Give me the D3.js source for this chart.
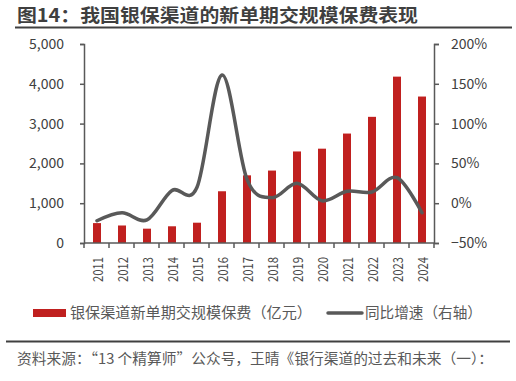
<!DOCTYPE html>
<html><head><meta charset="utf-8">
<script src="https://cdn.jsdelivr.net/npm/d3@7"></script>
<style>
html,body{margin:0;padding:0;background:#fff;}
svg text{font-family:"Noto Sans CJK SC","Noto Sans",sans-serif;}
</style></head>
<body><svg id="c" width="516" height="381"></svg>
<script>
const years = ["2011","2012","2013","2014","2015","2016","2017","2018","2019","2020","2021","2022","2023","2024"];
const premium = [500,440,360,420,510,1300,1700,1820,2300,2370,2750,3170,4180,3680];
const growth = [-0.22,-0.12,-0.21,0.16,0.20,1.61,0.30,0.07,0.25,0.03,0.15,0.14,0.32,-0.12];
const leftTicks = [0,1000,2000,3000,4000,5000];
const rightTicks = [-0.5,0,0.5,1.0,1.5,2.0];
const titleText = "图14：我国银保渠道的新单期交规模保费表现";
const legendBar = "银保渠道新单期交规模保费（亿元）";
const legendLine = "同比增速（右轴）";
const sourceText = "资料来源：“13 个精算师”公众号，王晴《银行渠道的过去和未来（一）：";

const svg = d3.select("#c");
const axisColor = "#595959", textColor = "#404040";
const L = 84, R = 434, T = 44, B = 243;

const x = d3.scaleBand().domain(years).range([L, R]).padding(0);
const y = d3.scaleLinear().domain([0,5000]).range([B, T]);
const y2 = d3.scaleLinear().domain([-0.5,2.0]).range([B, T]);

// title
svg.append("text").attr("x",17).attr("y",22).attr("font-size",18).attr("font-weight","bold")
  .attr("fill","#3f3f3f").attr("textLength",401).attr("lengthAdjust","spacingAndGlyphs").text(titleText);
svg.append("line").attr("x1",15).attr("x2",512).attr("y1",27.5).attr("y2",27.5)
  .attr("stroke","#404040").attr("stroke-width",2);

// bars
const bw = 8;
svg.append("g").selectAll("rect").data(years).join("rect")
  .attr("x", d => x(d) + x.bandwidth()/2 - bw/2 + 0.5)
  .attr("width", bw)
  .attr("y", (d,i) => y(premium[i]))
  .attr("height", (d,i) => B - y(premium[i]))
  .attr("fill","#c0201f");

// axes
const gL = svg.append("g").attr("transform",`translate(${L},0)`)
  .call(d3.axisLeft(y).tickValues(leftTicks).tickSize(4).tickPadding(16).tickFormat(d3.format(",")));
const gR = svg.append("g").attr("transform",`translate(${R},0)`)
  .call(d3.axisRight(y2).tickValues(rightTicks).tickSize(5).tickPadding(12).tickFormat(d3.format(".0%")));
const gB = svg.append("g").attr("transform",`translate(0,${B})`)
  .call(d3.axisBottom(x).tickSize(0).tickFormat(""));
[gL,gR,gB].forEach(g => {
  g.select(".domain").attr("stroke",axisColor).attr("stroke-width",1.5);
  g.selectAll(".tick line").attr("stroke",axisColor).attr("stroke-width",1.5);
  g.selectAll(".tick text").attr("fill",textColor).attr("font-size",14)
    .style("font-family",'"Noto Sans CJK SC","Noto Sans",sans-serif');
});
gB.select(".domain").attr("d",`M${L},0H${R}`);
// band boundary ticks on x axis
const bounds = years.map(d => x(d)).concat([R]);
svg.append("g").selectAll("line").data(bounds).join("line")
  .attr("x1",d=>d).attr("x2",d=>d).attr("y1",B).attr("y2",B+5)
  .attr("stroke",axisColor).attr("stroke-width",1.5);
// x labels rotated
svg.append("g").selectAll("text").data(years).join("text")
  .attr("transform", d => `translate(${x(d)+x.bandwidth()/2+1},257) rotate(-90)`)
  .attr("text-anchor","end").attr("dy","0.36em").attr("font-size",14)
  .attr("textLength",25).attr("lengthAdjust","spacingAndGlyphs")
  .attr("fill","#4a4a4a").text(d=>d);

// line
const line = d3.line().x((d,i)=>x(years[i])+x.bandwidth()/2+0.5).y(d=>y2(d)).curve(d3.curveCardinal.tension(0));
svg.append("path").datum(growth).attr("d",line).attr("fill","none")
  .attr("stroke","#595959").attr("stroke-width",3.5).attr("stroke-linecap","round");

// legend
svg.append("rect").attr("x",33).attr("y",309).attr("width",33).attr("height",8).attr("fill","#c0201f");
svg.append("text").attr("x",70).attr("y",318).attr("font-size",15).attr("fill","#595959")
  .attr("textLength",242).attr("lengthAdjust","spacingAndGlyphs").text(legendBar);
svg.append("line").attr("x1",328).attr("x2",362).attr("y1",313).attr("y2",313)
  .attr("stroke","#595959").attr("stroke-width",3.5).attr("stroke-linecap","round");
svg.append("text").attr("x",365).attr("y",318).attr("font-size",15).attr("fill","#595959")
  .attr("textLength",117).attr("lengthAdjust","spacingAndGlyphs").text(legendLine);

// footer
svg.append("line").attr("x1",6).attr("x2",510).attr("y1",341.5).attr("y2",341.5)
  .attr("stroke","#404040").attr("stroke-width",2);
svg.append("text").attr("x",17).attr("y",364).attr("font-size",14.5).attr("fill","#595959")
  .attr("textLength",476).attr("lengthAdjust","spacingAndGlyphs").text(sourceText);
</script></body></html>
